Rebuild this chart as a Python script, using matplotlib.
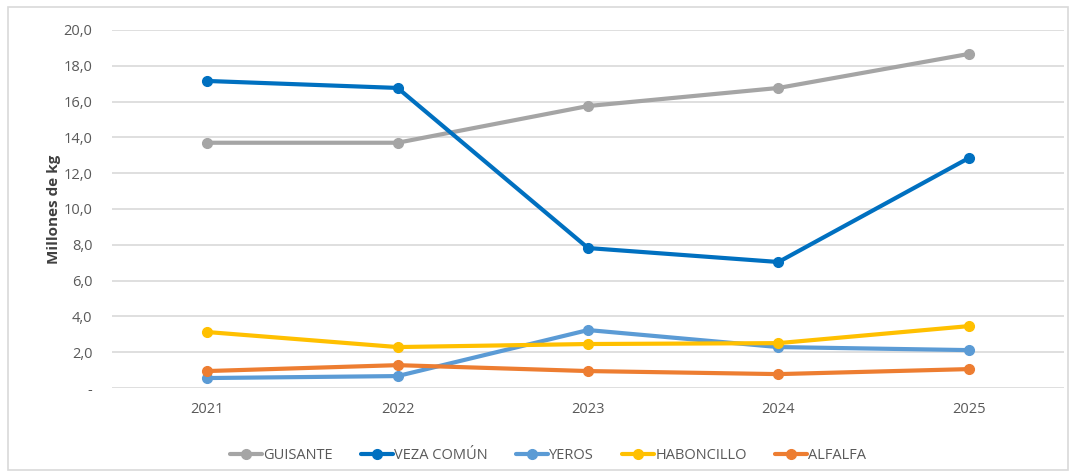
import matplotlib.pyplot as plt
from matplotlib.patches import Rectangle
from matplotlib.ticker import FuncFormatter

years = ["2021", "2022", "2023", "2024", "2025"]
guisante = [13.7, 13.7, 15.75, 16.76, 18.66]
veza = [17.15, 16.76, 7.82, 7.04, 12.85]
yeros = [0.56, 0.67, 3.24, 2.29, 2.12]
haboncillo = [3.13, 2.29, 2.46, 2.51, 3.46]
alfalfa = [0.95, 1.28, 0.95, 0.78, 1.06]

series = [
    ("GUISANTE", guisante, "#A5A5A5"),
    ("VEZA COMÚN", veza, "#0070C0"),
    ("YEROS", yeros, "#5B9BD5"),
    ("HABONCILLO", haboncillo, "#FFC000"),
    ("ALFALFA", alfalfa, "#ED7D31"),
]

plt.rcParams['font.family'] = ['Open Sans', 'DejaVu Sans']

fig = plt.figure(figsize=(10.76, 4.75), dpi=100)
ax = fig.add_axes([0.104, 0.183, 0.885, 0.754])

x = range(len(years))
for name, vals, color in series:
    ax.plot(x, vals, color=color, lw=3, marker="o", ms=7, label=name,
            solid_capstyle="round")

ax.set_xlim(-0.5, len(years) - 0.5)
ax.set_ylim(0, 20)
ax.set_yticks(range(0, 21, 2))
ax.yaxis.set_major_formatter(FuncFormatter(
    lambda v, p: "-" if v == 0 else f"{v:.1f}".replace(".", ",")))
ax.set_xticks(list(x))
ax.set_xticklabels(years)
ax.grid(axis="y", color="#D9D9D9", lw=1.2)
ax.set_axisbelow(True)
for s in ax.spines.values():
    s.set_visible(False)
ax.tick_params(length=0, colors="#595959", labelsize=10.5)
ax.tick_params(axis="y", pad=14)
ax.tick_params(axis="x", pad=10)
ax.set_ylabel("Millones de kg", fontsize=11, fontweight="bold", color="#404040", labelpad=2)

leg = ax.legend(loc="upper center", bbox_to_anchor=(0.458, -0.13), ncol=5, frameon=False,
                fontsize=10.5, labelcolor="#595959", handlelength=2.2, handletextpad=0.1,
                columnspacing=1.9)

fig.patches.append(Rectangle((0.007, 0.01), 0.986, 0.975, transform=fig.transFigure,
                             fill=False, edgecolor="#D9D9D9", lw=1.2))

fig.savefig("out.png", dpi=100)
